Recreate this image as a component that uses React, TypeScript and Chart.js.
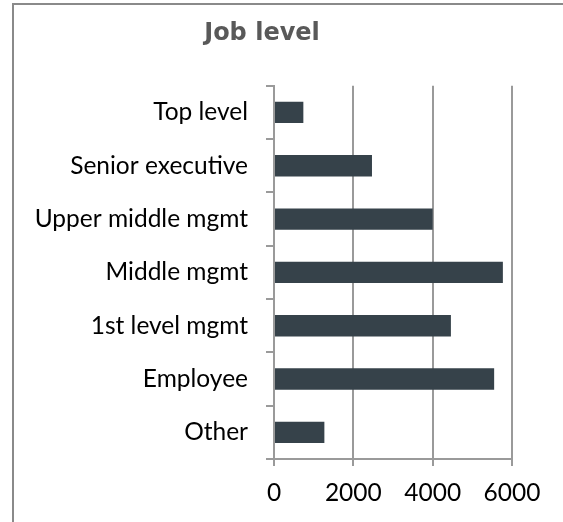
import React, { useEffect, useRef } from "react";
import { Chart, registerables } from "chart.js";

Chart.register(...registerables);

const categories = [
  "Top level",
  "Senior executive",
  "Upper middle mgmt",
  "Middle mgmt",
  "1st level mgmt",
  "Employee",
  "Other",
];
const values = [740, 2470, 4000, 5770, 4460, 5550, 1270];
const xTickValues = [0, 2000, 4000, 6000];
const chartTitle = "Job level";

export default function App() {
  const ref = useRef<HTMLCanvasElement>(null);

  useEffect(() => {
    if (!ref.current) return;
    const chart = new Chart(ref.current, {
      type: "bar",
      data: {
        labels: categories,
        datasets: [
          {
            data: values,
            backgroundColor: "#36424a",
            borderWidth: 0,
            categoryPercentage: 1,
            barPercentage: 0.4,
          },
        ],
      },
      options: {
        indexAxis: "y",
        animation: false,
        responsive: false,
        maintainAspectRatio: false,
        layout: { padding: { left: 12, right: 51, top: 0, bottom: 15 } },
        plugins: {
          legend: { display: false },
          tooltip: { enabled: false },
          title: {
            display: true,
            text: chartTitle,
            color: "#595959",
            font: { family: "'DejaVu Sans'", weight: "bold", size: 24 },
            padding: { top: 19, bottom: 38 },
          },
        },
        scales: {
          x: {
            type: "linear",
            min: 0,
            max: 6000,
            afterBuildTicks: (scale: any) => {
              scale.ticks = xTickValues.map((v) => ({ value: v }));
            },
            afterFit: (scale: any) => {
              scale.height = 48;
            },
            ticks: {
              color: "#000",
              font: { family: "Lato", size: 24.5 },
              padding: 12,
              maxRotation: 0,
              callback: (v: any) => String(v),
            },
            grid: {
              color: "#9a9a9a",
              lineWidth: 2,
              drawTicks: true,
              tickLength: 7,
              tickColor: "#9a9a9a",
            },
            border: { display: true, color: "#9a9a9a", width: 2 },
          },
          y: {
            type: "category",
            afterFit: (scale: any) => {
              scale.width = 262;
            },
            ticks: {
              color: "#000",
              font: { family: "Lato", size: 24.5 },
              padding: 18,
            },
            grid: {
              offset: true,
              drawOnChartArea: false,
              drawTicks: true,
              tickLength: 8,
              color: "#9a9a9a",
              lineWidth: 2,
            },
            border: { display: true, color: "#9a9a9a", width: 2 },
          },
        },
      },
    });
    return () => chart.destroy();
  }, []);

  return (
    <div
      style={{
        position: "absolute",
        left: 0,
        top: 0,
        width: 563,
        height: 522,
        background: "#fff",
        overflow: "hidden",
      }}
    >
      <div
        style={{
          position: "absolute",
          left: 12,
          top: 3,
          width: 600,
          height: 600,
          borderLeft: "2px solid #8a8a8a",
          borderTop: "2px solid #8a8a8a",
        }}
      />
      <canvas
        ref={ref}
        width={563}
        height={522}
        style={{ position: "absolute", left: 0, top: 0, width: 563, height: 522 }}
      />
    </div>
  );
}
